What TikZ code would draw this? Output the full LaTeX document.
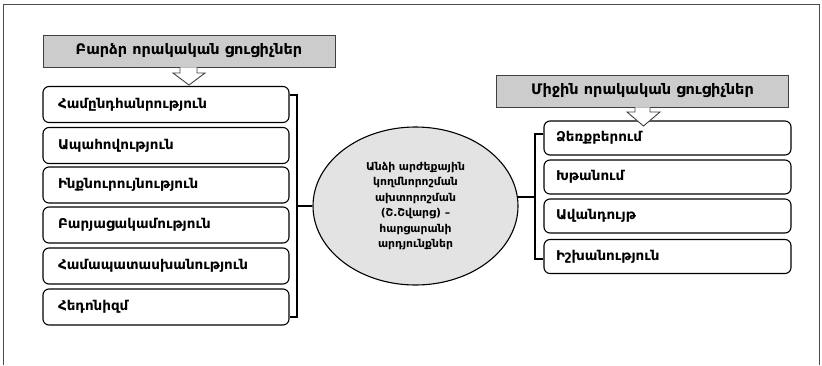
\documentclass[tikz,border=0pt]{standalone}
\usepackage{fontspec}
\setmainfont{DejaVu Sans}
\usetikzlibrary{shapes.geometric,calc}
\begin{document}
\begin{tikzpicture}[x=1pt,y=-1pt,
  frame/.style={draw=black!70,line width=1pt},
  header/.style={draw=black!75,line width=0.9pt,fill=black!20,minimum width=292pt,minimum height=32pt,inner sep=0pt,font=\fontsize{14.5}{16}\selectfont\bfseries},
  lbox/.style={draw,line width=1.1pt,rounded corners=6pt,minimum height=36pt,inner xsep=15pt,text width=216pt,align=left,font=\fontsize{13.5}{15}\selectfont\bfseries},
  rbox/.style={draw,line width=1.1pt,rounded corners=6pt,minimum height=34pt,inner xsep=12pt,text width=223pt,align=left,font=\fontsize{13.5}{15}\selectfont\bfseries},
  blockarrow/.style={draw=black!75,line width=0.9pt,fill=white},
  conn/.style={draw,line width=1.4pt},
]
\useasboundingbox (0,0) rectangle (822,365);
\draw[frame] (3.5,365) -- (3.5,4.5) -- (819.5,4.5) -- (819.5,365);

% left side
\node[header] (h1) at (189,51) {Բարձր որակական ցուցիչներ};
\node[lbox] (l1) at (166,104.5) {Համընդհանրություն};
\node[lbox] (l2) at (166,145.5) {Ապահովություն};
\node[lbox] (l3) at (166,185) {Ինքնուրույնություն};
\node[lbox] (l4) at (166,225) {Բարյացակամություն};
\node[lbox] (l5) at (166,266) {Համապատասխանություն};
\node[lbox] (l6) at (166,307) {Հեդոնիզմ};

\draw[blockarrow] (h1.south -| 180,0) -- (180,73) -- (173,73) -- (189,85) -- (205,73) -- (197,73) -- (h1.south -| 197,0);

% centre
\node[ellipse,draw,line width=1.1pt,fill=black!11,minimum width=205pt,minimum height=158pt,inner sep=0pt,align=center,font=\fontsize{10.8}{15.5}\selectfont\bfseries] (c) at (415.5,206)
  {Անձի արժեքային\\կողմնորոշման\\ախտորոշման\\(Շ.Շվարց) –\\հարցարանի\\արդյունքներ};

% right side
\node[header] (h2) at (642.5,91) {Միջին որակական ցուցիչներ};
\node[rbox] (r1) at (667.5,138) {Ձեռքբերում};
\node[rbox] (r2) at (667.5,177) {Խթանում};
\node[rbox] (r3) at (667.5,216) {Ավանդույթ};
\node[rbox] (r4) at (667.5,256.5) {Իշխանություն};

\draw[blockarrow] (h2.south -| 635,0) -- (635,112) -- (627,112) -- (643.5,126) -- (660,112) -- (650,112) -- (h2.south -| 650,0);

% brackets
\coordinate (lbt) at (297,95);
\coordinate (lbb) at (297,317);
\draw[conn] (l1.east |- lbt) -- (lbt) -- (lbb) -- (l6.east |- lbb);
\draw[conn] (lbt |- c.west) -- (c.west);

\coordinate (rbt) at (535,134);
\coordinate (rbb) at (535,259);
\draw[conn] (r1.west |- rbt) -- (rbt) -- (rbb) -- (r4.west |- rbb);
\draw[conn] (c.5) -- (c.5 -| rbt);
\end{tikzpicture}
\end{document}
